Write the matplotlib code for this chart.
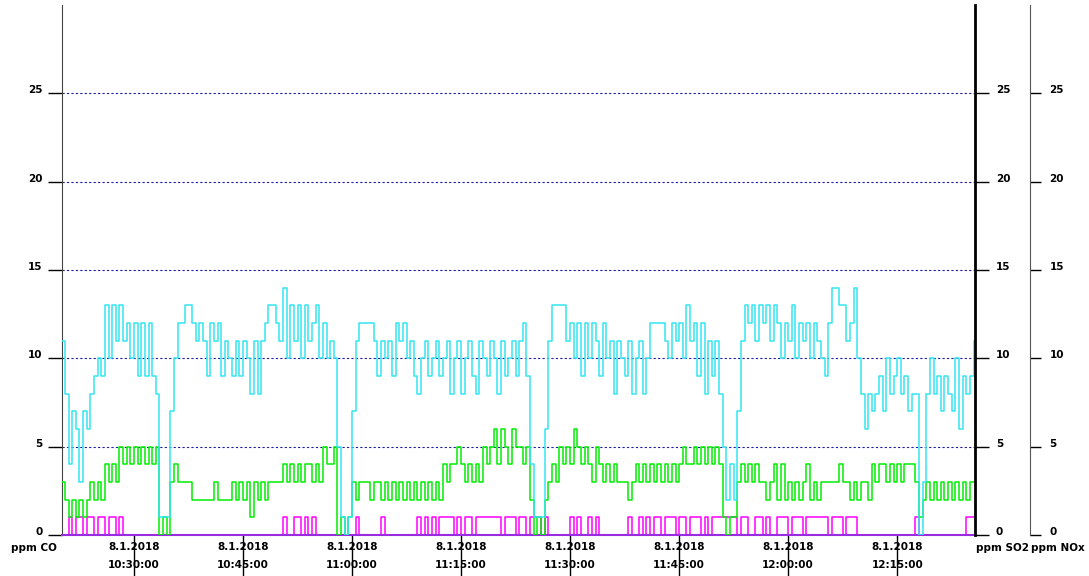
import numpy as np
import matplotlib
matplotlib.use("Agg")
import matplotlib.pyplot as plt

# 30 s samples, minutes counted from 8.1.2018 10:20:00
step_min = 0.5

# ppm CO (cyan)
co = [
    11, 8, 4, 7, 6, 3, 7, 6, 8, 9,
    10, 9, 13, 10, 13, 11, 13, 11, 12, 10,
    12, 9, 12, 9, 12, 9, 8, 1, 1, 1,
    7, 10, 12, 12, 13, 13, 12, 11, 12, 11,
    9, 12, 11, 12, 9, 11, 10, 9, 11, 9,
    11, 10, 8, 11, 8, 11, 12, 13, 13, 12,
    11, 14, 10, 13, 11, 13, 10, 13, 11, 12,
    13, 10, 12, 10, 11, 10, 5, 1, 0, 1,
    7, 11, 12, 12, 12, 12, 11, 9, 11, 10,
    11, 9, 12, 11, 12, 10, 11, 9, 8, 10,
    11, 9, 10, 11, 9, 10, 11, 8, 10, 11,
    8, 10, 11, 9, 8, 11, 10, 9, 11, 10,
    8, 11, 9, 10, 11, 9, 11, 12, 9, 4,
    1, 1, 1, 6, 11, 13, 13, 13, 13, 11,
    12, 10, 12, 9, 12, 10, 12, 11, 9, 12,
    10, 11, 8, 11, 10, 9, 11, 8, 10, 11,
    8, 10, 12, 12, 12, 12, 11, 10, 12, 11,
    12, 10, 13, 11, 12, 9, 12, 8, 11, 9,
    11, 8, 5, 2, 4, 2, 7, 11, 13, 12,
    13, 11, 13, 12, 13, 11, 13, 12, 10, 12,
    11, 13, 10, 12, 11, 12, 10, 12, 11, 10,
    9, 12, 14, 14, 13, 13, 11, 12, 14, 10,
    8, 6, 8, 7, 8, 9, 7, 10, 8, 9,
    10, 8, 9, 7, 8, 8, 0, 3, 8, 10,
    8, 9, 7, 9, 8, 7, 10, 6, 9, 8,
    9, 11,
]

# ppm SO2 (green)
so2 = [
    3, 2, 1, 2, 1, 2, 1, 2, 3, 2,
    3, 2, 4, 3, 4, 3, 5, 4, 5, 4,
    5, 4, 5, 4, 5, 4, 5, 0, 1, 0,
    3, 4, 3, 3, 3, 3, 2, 2, 2, 2,
    2, 2, 3, 2, 2, 2, 2, 3, 2, 3,
    2, 3, 1, 3, 2, 3, 2, 3, 3, 3,
    3, 4, 3, 4, 3, 4, 3, 4, 4, 3,
    4, 3, 5, 4, 4, 5, 0, 1, 0, 1,
    3, 2, 3, 3, 3, 2, 3, 3, 2, 3,
    2, 3, 2, 3, 2, 3, 2, 3, 2, 3,
    2, 3, 2, 3, 2, 4, 3, 4, 4, 5,
    4, 3, 4, 3, 4, 3, 5, 4, 5, 6,
    4, 6, 5, 4, 6, 5, 5, 4, 5, 2,
    0, 1, 0, 2, 3, 4, 3, 5, 4, 5,
    4, 6, 5, 4, 5, 4, 3, 5, 4, 3,
    4, 3, 4, 3, 3, 3, 2, 3, 4, 3,
    4, 3, 4, 3, 4, 3, 4, 3, 4, 3,
    4, 5, 4, 4, 5, 4, 5, 4, 5, 4,
    5, 4, 1, 0, 1, 1, 3, 4, 3, 4,
    3, 4, 3, 3, 2, 3, 4, 2, 4, 2,
    3, 2, 3, 2, 3, 4, 2, 3, 2, 3,
    3, 3, 3, 3, 4, 3, 3, 2, 3, 2,
    3, 3, 2, 4, 3, 4, 4, 3, 4, 3,
    4, 3, 4, 4, 4, 3, 1, 2, 3, 2,
    3, 2, 3, 2, 3, 2, 3, 2, 3, 2,
    3, 3,
]

# ppm NOx (magenta)
nox = [
    0, 0, 1, 0, 1, 1, 0, 1, 1, 0,
    1, 1, 0, 1, 1, 0, 1, 0, 0, 0,
    0, 0, 0, 0, 0, 0, 0, 0, 0, 0,
    0, 0, 0, 0, 0, 0, 0, 0, 0, 0,
    0, 0, 0, 0, 0, 0, 0, 0, 0, 0,
    0, 0, 0, 0, 0, 0, 0, 0, 0, 0,
    0, 1, 0, 0, 1, 1, 0, 1, 0, 1,
    0, 0, 0, 0, 0, 0, 0, 0, 0, 0,
    0, 1, 0, 0, 0, 0, 0, 0, 1, 0,
    0, 0, 0, 0, 0, 0, 0, 0, 1, 0,
    1, 0, 1, 0, 1, 1, 1, 1, 0, 1,
    0, 1, 1, 0, 1, 1, 1, 1, 1, 1,
    1, 0, 1, 1, 1, 0, 1, 1, 0, 1,
    1, 1, 0, 1, 0, 0, 0, 0, 0, 0,
    1, 0, 1, 0, 0, 1, 0, 1, 0, 0,
    0, 0, 0, 0, 0, 0, 1, 0, 0, 1,
    0, 1, 0, 1, 1, 0, 1, 1, 1, 0,
    1, 1, 0, 1, 1, 1, 0, 1, 0, 1,
    1, 1, 1, 1, 1, 1, 0, 1, 1, 0,
    0, 1, 1, 0, 1, 0, 0, 1, 1, 1,
    0, 1, 1, 1, 0, 1, 1, 1, 1, 1,
    1, 0, 1, 1, 1, 0, 1, 1, 1, 0,
    0, 0, 0, 0, 0, 0, 0, 0, 0, 0,
    0, 0, 0, 0, 0, 1, 0, 0, 0, 0,
    0, 0, 0, 0, 0, 0, 0, 0, 0, 1,
    1, 1,
]

tick_minutes = [10, 25, 40, 55, 70, 85, 100, 115]
tick_labels = [
    "8.1.2018\n10:30:00", "8.1.2018\n10:45:00", "8.1.2018\n11:00:00",
    "8.1.2018\n11:15:00", "8.1.2018\n11:30:00", "8.1.2018\n11:45:00",
    "8.1.2018\n12:00:00", "8.1.2018\n12:15:00",
]
y_ticks = [0, 5, 10, 15, 20, 25]

t = np.arange(len(co)) * step_min

fig = plt.figure(figsize=(10.89, 5.76), dpi=100)
ax = fig.add_axes([62 / 1089, 41 / 576, 913 / 1089, 530 / 576])
ax.set_xlim(0.1, 125.7)
ax.set_ylim(0, 30)

for v in y_ticks[1:]:
    ax.axhline(v, color="#1c1ca8", lw=0.8, ls=(0, (2, 2)), zorder=0)

ax.step(t, nox, where="post", color="#ff00ff", lw=1.1, zorder=2)
ax.step(t, so2, where="post", color="#00ee00", lw=1.1, zorder=3)
ax.step(t, co, where="post", color="#33e4f2", lw=1.1, zorder=4)

ax.spines["top"].set_visible(False)
ax.spines["right"].set_visible(False)
ax.spines["left"].set_color("#444444")
ax.spines["bottom"].set_color("#9a2be0")
ax.spines["bottom"].set_linewidth(1.5)

ax.set_yticks(y_ticks)
ax.tick_params(axis="y", direction="out", length=10, width=1, pad=4, labelsize=7.5)
ax.set_xticks(tick_minutes, tick_labels)
ax.tick_params(axis="x", direction="out", length=29.5, width=1, pad=-24.5, labelsize=7.5)
for lbl in ax.get_xticklabels():
    lbl.set_fontweight("bold")
    lbl.set_linespacing(1.95)
for lbl in ax.get_yticklabels():
    lbl.set_fontweight("bold")
    lbl.set_va("baseline")

# right axis: ppm SO2
ax2 = ax.twinx()
ax2.set_ylim(0, 30)
ax2.set_yticks(y_ticks)
for s in ["top", "left", "bottom"]:
    ax2.spines[s].set_visible(False)
ax2.spines["right"].set_linewidth(2)
ax2.spines["right"].set_color("black")
ax2.tick_params(axis="y", direction="out", length=10, width=1, pad=5, labelsize=7.5)
for lbl in ax2.get_yticklabels():
    lbl.set_fontweight("bold")
    lbl.set_va("baseline")

# second right axis: ppm NOx
ax3 = ax.twinx()
ax3.set_ylim(0, 30)
ax3.set_yticks(y_ticks)
for s in ["top", "left", "bottom"]:
    ax3.spines[s].set_visible(False)
ax3.spines["right"].set_position(("axes", (1030 - 62) / 913))
ax3.spines["right"].set_color("#555555")
ax3.tick_params(axis="y", direction="out", length=8, width=1, pad=6, labelsize=7.5)
for lbl in ax3.get_yticklabels():
    lbl.set_fontweight("bold")
    lbl.set_va("baseline")

fig.text(34 / 1089, 1 - 548 / 576, "ppm CO", ha="center", va="center", fontsize=7.5, fontweight="bold")
fig.text(1003 / 1089, 1 - 548 / 576, "ppm SO2", ha="center", va="center", fontsize=7.5, fontweight="bold")
fig.text(1058 / 1089, 1 - 548 / 576, "ppm NOx", ha="center", va="center", fontsize=7.5, fontweight="bold")

fig.savefig("out.png", dpi=100)
